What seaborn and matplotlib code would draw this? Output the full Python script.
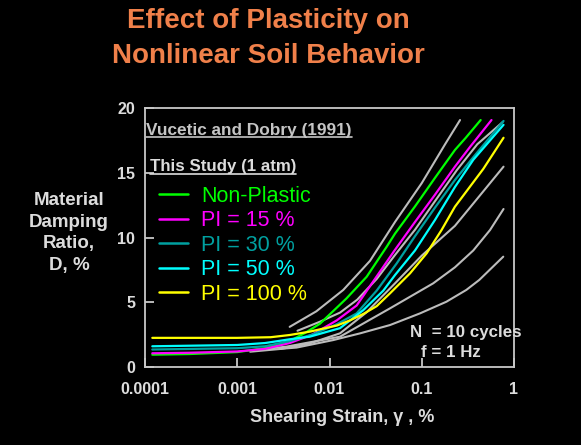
import pandas as pd
import matplotlib
matplotlib.use("Agg")
import matplotlib.pyplot as plt
import seaborn as sns
from matplotlib.lines import Line2D
from matplotlib.ticker import NullLocator

# ---- this study (1 atm): shearing strain (%) vs material damping ratio (%) ----
np_strain = [0.00012, 0.0003, 0.001, 0.002, 0.0037, 0.0055, 0.0079, 0.0153, 0.0253,
             0.0417, 0.0513, 0.0845, 0.139, 0.229, 0.3, 0.435]
np_damp = [0.95, 1.0, 1.15, 1.45, 2.0, 2.65, 3.35, 5.3, 6.97,
           9.29, 10.3, 12.4, 14.6, 16.76, 17.7, 19.07]

pi15_strain = [0.00012, 0.0003, 0.001, 0.002, 0.0037, 0.0065, 0.012, 0.0197, 0.0325,
               0.0513, 0.0845, 0.139, 0.229, 0.334, 0.57]
pi15_damp = [1.06, 1.1, 1.2, 1.4, 1.85, 2.5, 3.6, 4.75, 7.0,
             9.05, 11.2, 13.3, 15.47, 17.0, 19.07]

pi30_strain = [0.00012, 0.001, 0.002, 0.0037, 0.0065, 0.012, 0.0197, 0.0325, 0.0535,
               0.0845, 0.139, 0.229, 0.362, 0.77]
pi30_damp = [1.35, 1.45, 1.6, 2.0, 2.5, 3.3, 4.14, 5.9, 8.0,
             10.1, 12.3, 14.44, 16.2, 19.0]

pi50_strain = [0.00012, 0.001, 0.002, 0.0037, 0.0061, 0.013, 0.0233, 0.0383, 0.0513,
               0.0845, 0.139, 0.229, 0.362, 0.77]
pi50_damp = [1.6, 1.7, 1.85, 2.14, 2.34, 3.0, 4.4, 5.9, 7.1,
             9.0, 11.35, 13.9, 16.0, 18.7]

pi100_strain = [0.00012, 0.001, 0.0023, 0.0037, 0.0061, 0.012, 0.0167, 0.0233, 0.0325,
                0.0453, 0.0746, 0.113, 0.164, 0.229, 0.465, 0.77]
pi100_damp = [2.25, 2.25, 2.3, 2.47, 2.73, 3.2, 3.6, 4.1, 4.7,
              5.69, 7.23, 8.78, 10.58, 12.38, 15.3, 17.7]

# ---- Vucetic and Dobry (1991) reference curves ----
vd0_strain = [0.0037, 0.0072, 0.0141, 0.0275, 0.0513, 0.1, 0.179, 0.26]
vd0_damp = [3.1, 4.3, 5.95, 8.2, 11.2, 14.2, 17.2, 19.07]

vd15_strain = [0.0045, 0.0079, 0.013, 0.02, 0.0325, 0.0513, 0.0845, 0.139, 0.24, 0.4, 0.75]
vd15_damp = [2.8, 3.5, 4.2, 5.2, 6.8, 8.65, 10.6, 12.8, 15.2, 17.2, 18.9]

vd30_strain = [0.00138, 0.003, 0.006, 0.013, 0.025, 0.0513, 0.1, 0.229, 0.4, 0.77]
vd30_damp = [1.18, 1.4, 1.8, 2.6, 4.2, 6.46, 8.6, 10.9, 13.0, 15.47]

vd50_strain = [0.0015, 0.0034, 0.013, 0.0453, 0.133, 0.229, 0.362, 0.55, 0.77]
vd50_damp = [1.3, 1.57, 2.34, 4.53, 6.46, 7.7, 9.0, 10.58, 12.2]

vd100_strain = [0.0029, 0.0044, 0.011, 0.0215, 0.0453, 0.0957, 0.185, 0.304, 0.42, 0.765]
vd100_damp = [1.4, 1.5, 2.08, 2.6, 3.24, 4.14, 5.04, 5.95, 6.72, 8.52]

soil_names = ["Non-Plastic", "PI = 15 %", "PI = 30 %", "PI = 50 %", "PI = 100 %"]
soil_colors = ["#00ff00", "#ff00ff", "#00a0a0", "#00ffff", "#ffff00"]
x_tick_values = [0.0001, 0.001, 0.01, 0.1, 1]
x_tick_labels = ["0.0001", "0.001", "0.01", "0.1", "1"]
y_tick_values = [0, 5, 10, 15, 20]


def long_form(pairs, names):
    frames = []
    for (s, d), n in zip(pairs, names):
        frames.append(pd.DataFrame({"strain": s, "damping": d, "soil": n}))
    return pd.concat(frames, ignore_index=True)


study = long_form([(np_strain, np_damp), (pi15_strain, pi15_damp), (pi30_strain, pi30_damp),
                   (pi50_strain, pi50_damp), (pi100_strain, pi100_damp)], soil_names)
vucetic = long_form([(vd0_strain, vd0_damp), (vd15_strain, vd15_damp), (vd30_strain, vd30_damp),
                     (vd50_strain, vd50_damp), (vd100_strain, vd100_damp)],
                    ["PI 0", "PI 15", "PI 30", "PI 50", "PI 100"])

sns.set_style("ticks")
plt.rcParams["font.family"] = ["Liberation Sans", "DejaVu Sans"]

fg = "#dcdcdc"
fig = plt.figure(figsize=(5.81, 4.45), dpi=100, facecolor="black")
ax = fig.add_axes([145 / 581, 1 - 367 / 445, 369 / 581, 259 / 445])
ax.set_facecolor("black")

sns.lineplot(data=vucetic, x="strain", y="damping", units="soil", estimator=None,
             sort=False, color="#bcbcbc", lw=1.5, legend=False, ax=ax)
palette = dict(zip(soil_names, soil_colors))
sns.lineplot(data=study, x="strain", y="damping", hue="soil", hue_order=soil_names,
             palette=palette, estimator=None, sort=False, lw=1.6, legend=False, ax=ax)

ax.set_xscale("log")
ax.set_xlim(1e-4, 1)
ax.set_ylim(0, 20)
ax.set_xticks(x_tick_values)
ax.set_xticklabels(x_tick_labels)
ax.xaxis.set_minor_locator(NullLocator())
ax.set_yticks(y_tick_values)
ax.set_yticklabels([str(v) for v in y_tick_values])
ax.tick_params(axis="both", direction="in", length=6.5, width=1.3, color="#c8c8c8",
               labelcolor=fg, labelsize=11.5)
ax.tick_params(axis="x", pad=11)
ax.tick_params(axis="y", pad=7)
for lbl in ax.get_xticklabels() + ax.get_yticklabels():
    lbl.set_fontweight("bold")
for sp in ax.spines.values():
    sp.set_visible(True)
    sp.set_color("#c8c8c8")
    sp.set_linewidth(1.3)

ax.set_xlabel("Shearing Strain, γ , %", color=fg, fontsize=13, fontweight="bold")
ax.xaxis.set_label_coords((342 - 145) / 369, (367 - 409) / 259)
ax.set_ylabel("Material\nDamping\nRatio,\nD, %", color=fg, fontsize=13.5, fontweight="bold",
              rotation=0, ha="center", va="center", linespacing=1.38)
ax.yaxis.set_label_coords((69 - 145) / 369, (367 - 233) / 259)

handles = [Line2D([], [], color=c, lw=1.8) for c in soil_colors]
ax.legend(handles, soil_names, loc="upper left", bbox_to_anchor=((159 - 145) / 369, (367 - 186) / 259),
          frameon=False, fontsize=15.5, labelcolor="linecolor", handlelength=1.35,
          handletextpad=0.6, labelspacing=0.16, borderpad=0, borderaxespad=0)

# Source captions, underlined
cap_vd = ax.text((146 - 145) / 369, (367 - 134.5) / 259, "Vucetic and Dobry (1991)",
                 transform=ax.transAxes, color="#c4c4c4", fontsize=12.4, fontweight="bold",
                 va="baseline", ha="left")
cap_ts = ax.text((150 - 145) / 369, (367 - 171) / 259, "This Study (1 atm)",
                 transform=ax.transAxes, color=fg, fontsize=12.2, fontweight="bold",
                 va="baseline", ha="left")
ax.text((410 - 145) / 369, (367 - 336.5) / 259, "N  = 10 cycles", transform=ax.transAxes,
        color=fg, fontsize=12.2, fontweight="bold", va="baseline", ha="left")
ax.text((421 - 145) / 369, (367 - 357) / 259, "f = 1 Hz", transform=ax.transAxes,
        color=fg, fontsize=12.2, fontweight="bold", va="baseline", ha="left")

fig.text(268 / 581, 1 - 28 / 445, "Effect of Plasticity on", color="#f0804a",
         fontsize=20, fontweight="bold", ha="center", va="baseline")
fig.text(268 / 581, 1 - 63 / 445, "Nonlinear Soil Behavior", color="#f0804a",
         fontsize=20, fontweight="bold", ha="center", va="baseline")

fig.canvas.draw()
renderer = fig.canvas.get_renderer()
for t, col in ((cap_vd, "#c4c4c4"), (cap_ts, fg)):
    bb = t.get_window_extent(renderer)
    _, y_base = ax.transAxes.transform(t.get_position())
    y_line = y_base - 2.5
    fig.add_artist(Line2D([bb.x0 / fig.bbox.width, bb.x1 / fig.bbox.width],
                          [y_line / fig.bbox.height, y_line / fig.bbox.height],
                          color=col, lw=1.2))

fig.savefig("out.png", dpi=100, facecolor="black")
